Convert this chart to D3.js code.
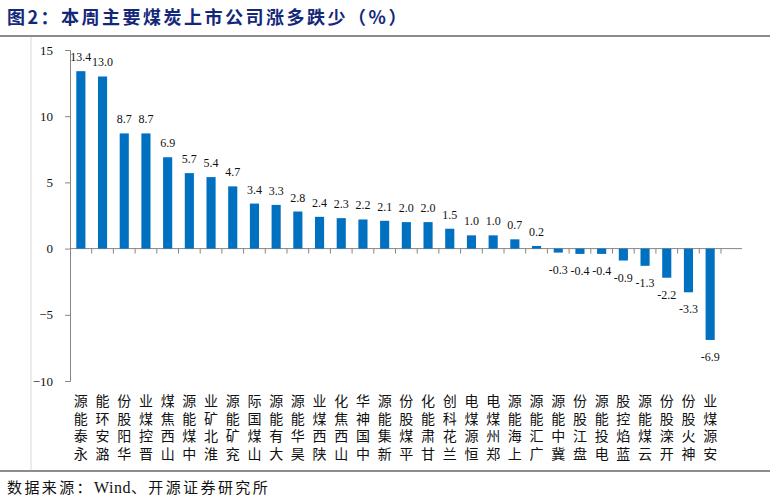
<!DOCTYPE html>
<html>
<head>
<meta charset="utf-8">
<script src="https://cdn.jsdelivr.net/npm/d3@7"></script>
<style>
  body { margin: 0; background: #fff; }
</style>
</head>
<body>
<script>
// chart data
var companies = ["永泰能源", "潞安环能", "华阳股份", "晋控煤业", "山西焦煤", "中煤能源", "淮北矿业", "兖矿能源", "山煤国际", "大有能源",
  "昊华能源", "陕西煤业", "山西焦化", "中国神华", "新集能源", "平煤股份", "甘肃能化", "兰花科创", "恒源煤电", "郑州煤电",
  "上海能源", "广汇能源", "冀中能源", "盘江股份", "电投能源", "蓝焰控股", "云煤能源", "开滦股份", "神火股份", "安源煤业"];
var changes = [13.4, 13.0, 8.7, 8.7, 6.9, 5.7, 5.4, 4.7, 3.4, 3.3,
  2.8, 2.4, 2.3, 2.2, 2.1, 2.0, 2.0, 1.5, 1.0, 1.0,
  0.7, 0.2, -0.3, -0.4, -0.4, -0.9, -1.3, -2.2, -3.3, -6.9];
var yTicks = [-10, -5, 0, 5, 10, 15];

var titleText = "图2：本周主要煤炭上市公司涨多跌少（%）";

var W = 774, H = 499;
var serif = "'Liberation Serif', 'DejaVu Serif', serif";
var cjk = "'Noto Sans CJK SC', sans-serif";

var svg = d3.select("body").append("svg")
  .attr("width", W)
  .attr("height", H);

// title + frame lines
svg.append("text")
  .attr("x", 7)
  .attr("y", 24)
  .attr("font-family", cjk)
  .attr("font-weight", "bold")
  .attr("font-size", 18)
  .attr("letter-spacing", 2.5)
  .attr("fill", "#14287a")
  .text(titleText);

svg.append("line")
  .attr("x1", 0).attr("x2", 770)
  .attr("y1", 36).attr("y2", 36)
  .attr("stroke", "#8c8c8c")
  .attr("stroke-width", 2);

svg.append("line")
  .attr("x1", 31).attr("x2", 31)
  .attr("y1", 37).attr("y2", 470)
  .attr("stroke", "#d9d9d9")
  .attr("stroke-width", 1);

svg.append("line")
  .attr("x1", 0).attr("x2", 770)
  .attr("y1", 471).attr("y2", 471)
  .attr("stroke", "#8c8c8c")
  .attr("stroke-width", 2);

// source line, latin part in serif
var src = svg.append("text")
  .attr("x", 7)
  .attr("y", 493)
  .attr("font-family", cjk)
  .attr("font-size", 15)
  .attr("letter-spacing", 2.4)
  .attr("fill", "#111");
src.append("tspan").text("数据来源：");
src.append("tspan").attr("font-family", serif).attr("font-size", 16).attr("letter-spacing", 0.5).text("Wind");
src.append("tspan").text("、开源证券研究所");

// scales
var x = d3.scaleBand()
  .domain(companies)
  .range([70, 721])
  .paddingInner(0.58)
  .paddingOuter(0.29);

var y = d3.scaleLinear()
  .domain([-10, 15])
  .range([381, 50]);

// y axis
var yAxis = svg.append("g")
  .attr("transform", "translate(70,0)")
  .call(d3.axisLeft(y).tickValues(yTicks).tickSize(5).tickPadding(12));
yAxis.selectAll("text")
  .attr("font-family", serif)
  .attr("font-size", 13)
  .attr("fill", "#111");
yAxis.selectAll("line, path").attr("stroke", "#868686");

// x axis along zero, ticks at band edges
var step = x.step();
var edges = d3.range(companies.length + 1).map(function (i) {
  return x(companies[0]) - (step - x.bandwidth()) / 2 + i * step;
});
svg.append("line")
  .attr("x1", 70).attr("x2", 742)
  .attr("y1", y(0)).attr("y2", y(0))
  .attr("stroke", "#868686");
svg.selectAll(".xtick")
  .data(edges.slice(1))
  .enter().append("line")
  .attr("class", "xtick")
  .attr("x1", function (d) { return d; })
  .attr("x2", function (d) { return d; })
  .attr("y1", y(0))
  .attr("y2", y(0) + 5)
  .attr("stroke", "#868686");

// bars
svg.selectAll(".bar")
  .data(changes)
  .enter().append("rect")
  .attr("class", "bar")
  .attr("x", function (d, i) { return x(companies[i]); })
  .attr("width", x.bandwidth())
  .attr("y", function (d) { return d >= 0 ? y(d) : y(0); })
  .attr("height", function (d) { return Math.abs(y(d) - y(0)); })
  .attr("fill", "#0070c0");

// value labels
svg.selectAll(".val")
  .data(changes)
  .enter().append("text")
  .attr("class", "val")
  .attr("x", function (d, i) { return x(companies[i]) + x.bandwidth() / 2; })
  .attr("y", function (d) { return d >= 0 ? y(d) - 10 : y(d) + 21; })
  .attr("text-anchor", "middle")
  .attr("font-family", serif)
  .attr("font-size", 12)
  .attr("fill", "#111")
  .text(function (d) { return d.toFixed(1); });

// category labels: upright glyphs stacked, read bottom to top
var cat = svg.selectAll(".cat")
  .data(companies)
  .enter().append("g")
  .attr("class", "cat");
cat.selectAll("text")
  .data(function (d) {
    var chars = d.split("");
    return chars.map(function (c, j) { return { c: c, name: d, k: chars.length - 1 - j }; });
  })
  .enter().append("text")
  .attr("x", function (d) { return x(d.name) + x.bandwidth() / 2; })
  .attr("y", function (d) { return 406 + d.k * 17.5; })
  .attr("text-anchor", "middle")
  .attr("font-family", cjk)
  .attr("font-size", 14)
  .attr("fill", "#111")
  .text(function (d) { return d.c; });
</script>
</body>
</html>
